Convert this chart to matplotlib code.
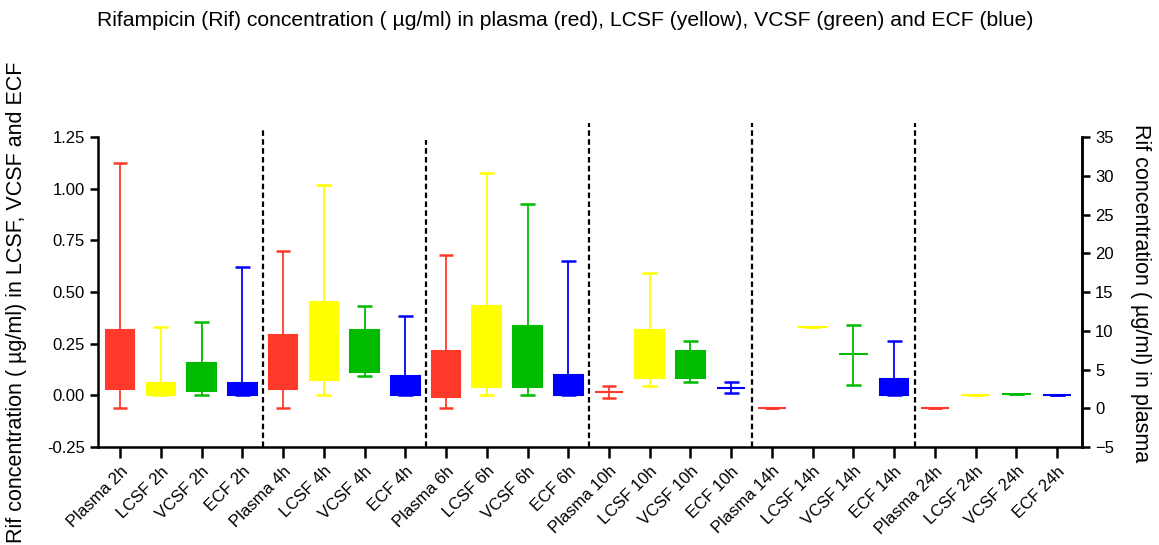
import matplotlib.pyplot as plt
import numpy as np

plt.rcParams['font.family'] = ['Liberation Sans', 'DejaVu Sans']

# sampling times and compartments
times = ['2', '4', '6', '10', '14', '24']
compartments = ['Plasma', 'LCSF', 'VCSF', 'ECF']
colors = ['#ff3a2a', '#ffff00', '#00bb00', '#0000ff']

# plasma (right axis, ug/ml): min, q1, q3, max
plasma_min = [0, 0, 0, 1.3, 0, 0]
plasma_q1 = [2.5, 2.5, 1.5, 2.1, 0, 0]
plasma_q3 = [10.1, 9.5, 7.4, 2.1, 0, 0]
plasma_max = [31.7, 20.3, 19.8, 2.9, 0, 0]

# LCSF (left axis)
lcsf_min = [0, 0, 0, 0.045, 0.332, 0]
lcsf_q1 = [0, 0.073, 0.042, 0.082, 0.332, 0]
lcsf_q3 = [0.058, 0.453, 0.434, 0.316, 0.332, 0]
lcsf_max = [0.332, 1.016, 1.077, 0.59, 0.332, 0]

# VCSF (left axis)
vcsf_min = [0, 0.094, 0, 0.063, 0.05, 0.006]
vcsf_q1 = [0.022, 0.111, 0.042, 0.082, 0.198, 0.006]
vcsf_q3 = [0.158, 0.316, 0.335, 0.216, 0.198, 0.006]
vcsf_max = [0.353, 0.432, 0.927, 0.264, 0.342, 0.006]

# ECF (left axis)
ecf_min = [0, 0, 0, 0.013, 0, 0]
ecf_q1 = [0, 0, 0, 0.035, 0, 0]
ecf_q3 = [0.058, 0.095, 0.097, 0.035, 0.077, 0]
ecf_max = [0.621, 0.382, 0.65, 0.066, 0.264, 0]

# top of the dotted separators (left-axis units)
sep_tops = [1.30, 1.235, 1.32, 1.32, 1.32]

labels = [f'{c} {t}h' for t in times for c in compartments]

fig = plt.figure(figsize=(11.59, 5.45), dpi=100)
ax = fig.add_axes([0.0846, 0.1798, 0.849, 0.5688])
ax2 = ax.twinx()

series = [
    (ax2, plasma_min, plasma_q1, plasma_q3, plasma_max),
    (ax, lcsf_min, lcsf_q1, lcsf_q3, lcsf_max),
    (ax, vcsf_min, vcsf_q1, vcsf_q3, vcsf_max),
    (ax, ecf_min, ecf_q1, ecf_q3, ecf_max),
]

box_w = 0.7
cap_w = 0.36
for k, (a, mn, q1, q3, mx) in enumerate(series):
    x = np.arange(len(times)) * 4 + k
    col = colors[k]
    mn, q1, q3, mx = map(np.array, (mn, q1, q3, mx))
    a.vlines(x, q3, mx, color=col, lw=1.3, zorder=2)
    a.vlines(x, mn, q1, color=col, lw=1.3, zorder=2)
    a.hlines(mx, x - cap_w / 2, x + cap_w / 2, color=col, lw=1.8, zorder=2)
    a.hlines(mn, x - cap_w / 2, x + cap_w / 2, color=col, lw=1.8, zorder=2)
    a.bar(x, q3 - q1, bottom=q1, width=box_w, color=col, edgecolor=col,
          lw=1.5, zorder=3)

xlim = (-0.54, 23.61)
ax.set_xlim(*xlim)
ax2.set_xlim(*xlim)
ax.set_ylim(-0.25, 1.25)
ax2.set_ylim(-5, 35)

for i, top in enumerate(sep_tops):
    ax.plot([4 * i + 3.5, 4 * i + 3.5], [-0.25, top], color='black',
            lw=1.6, ls=(0, (2.5, 1.5)), clip_on=False, zorder=1)

ax.set_yticks(np.arange(-0.25, 1.26, 0.25))
ax.set_yticklabels([f'{v:.2f}' for v in np.arange(-0.25, 1.26, 0.25)])
ax2.set_yticks(np.arange(-5, 36, 5))
ax.set_xticks(np.arange(len(labels)))
ax.set_xticklabels(labels, rotation=45, ha='right', rotation_mode='anchor',
                   fontsize=11.5)

for a in (ax, ax2):
    a.spines['top'].set_visible(False)
    for s in ('left', 'right', 'bottom'):
        a.spines[s].set_linewidth(1.8)
    a.tick_params(width=1.8, length=6, labelsize=12, direction='out')
ax.tick_params(axis='x', length=8, pad=4)
ax2.spines['left'].set_visible(False)
ax2.spines['bottom'].set_visible(False)

fig.text(0.4875, 0.962,
         'Rifampicin (Rif) concentration ( µg/ml) in plasma (red), LCSF (yellow), '
         'VCSF (green) and ECF (blue)', ha='center', va='center', fontsize=15.2)
fig.text(0.014, 0.445, 'Rif concentration ( µg/ml) in LCSF, VCSF and ECF',
         rotation=90, ha='center', va='center', fontsize=15.5)
fig.text(0.984, 0.462, 'Rif concentration ( µg/ml) in plasma',
         rotation=270, ha='center', va='center', fontsize=15.5)

fig.savefig('out.png', dpi=100)
